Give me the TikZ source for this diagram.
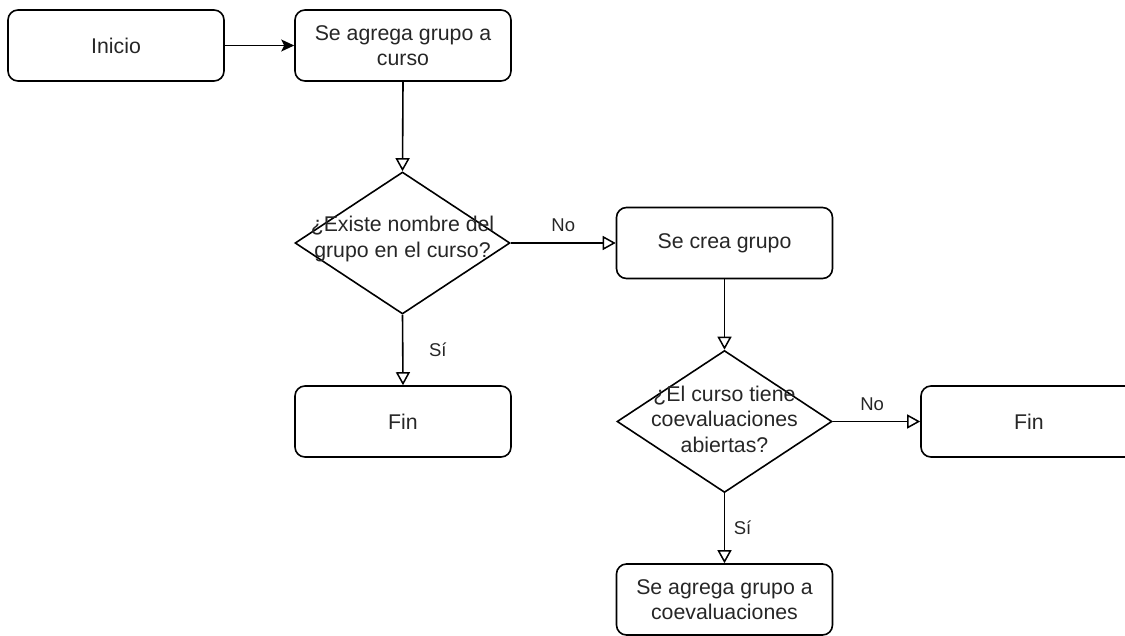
\documentclass[tikz,border=0pt]{standalone}
\usepackage{fontspec}
\setmainfont{Liberation Sans}
\usetikzlibrary{shapes.geometric,arrows.meta}
\begin{document}
\begin{tikzpicture}[x=1pt,y=-1pt,
  every node/.style={font=\fontsize{21.3}{25.5}\selectfont, text=black!85},
  procbox/.style={draw, line width=1.6pt, rounded corners=10pt, minimum width=216pt, minimum height=71pt, inner sep=0pt, align=center},
  decision/.style={draw, diamond, line width=1.6pt, minimum width=215pt, minimum height=142pt, inner sep=0pt},
  dtext/.style={align=center, inner sep=0pt},
  flow/.style={line width=1.6pt, -{Triangle[open, length=13pt, width=14pt, line width=1.5pt]}},
  startflow/.style={line width=1.6pt, -{Stealth[length=13pt, width=12pt, inset=3pt]}},
  lbl/.style={inner sep=0pt, font=\fontsize{18.5}{22}\selectfont}
]
\clip (0,0) rectangle (1125,635);
\useasboundingbox (0,0) rectangle (1125,635);

\node[procbox] (inicio) at (116,45.5) {Inicio};
\node[procbox] (agrega) at (403,45.5) {Se agrega grupo a\\curso};
\node[decision] (d1) at (402.5,243) {};
\node[dtext] (d1t) at (402.5,239) {¿Existe nombre del\\grupo en el curso?};
\node[procbox] (crea) at (724.5,243) {Se crea grupo};
\node[procbox] (fin1) at (403,421.5) {Fin};
\node[decision] (d2) at (724.5,421.5) {};
\node[dtext] (d2t) at (724.5,419) {¿El curso tiene\\coevaluaciones\\abiertas?};
\node[procbox] (fin2) at (1029,421.5) {Fin};
\node[procbox] (coev) at (724.5,599.5) {Se agrega grupo a\\coevaluaciones};

\draw[startflow] (inicio.east) -- (agrega.west);
\draw[flow] (agrega.south) -- (d1.north);
\draw[flow] (d1.east) -- node[lbl, pos=0.5, yshift=18pt] {No} (crea.west);
\draw[flow] (d1.south) -- node[lbl, pos=0.5, xshift=35pt] {Sí} (fin1.north);
\draw[flow] (crea.south) -- (d2.north);
\draw[flow] (d2.east) -- node[lbl, pos=0.45, yshift=17pt] {No} (fin2.west);
\draw[flow] (d2.south) -- node[lbl, pos=0.5, xshift=18pt] {Sí} (coev.north);
\end{tikzpicture}
\end{document}
